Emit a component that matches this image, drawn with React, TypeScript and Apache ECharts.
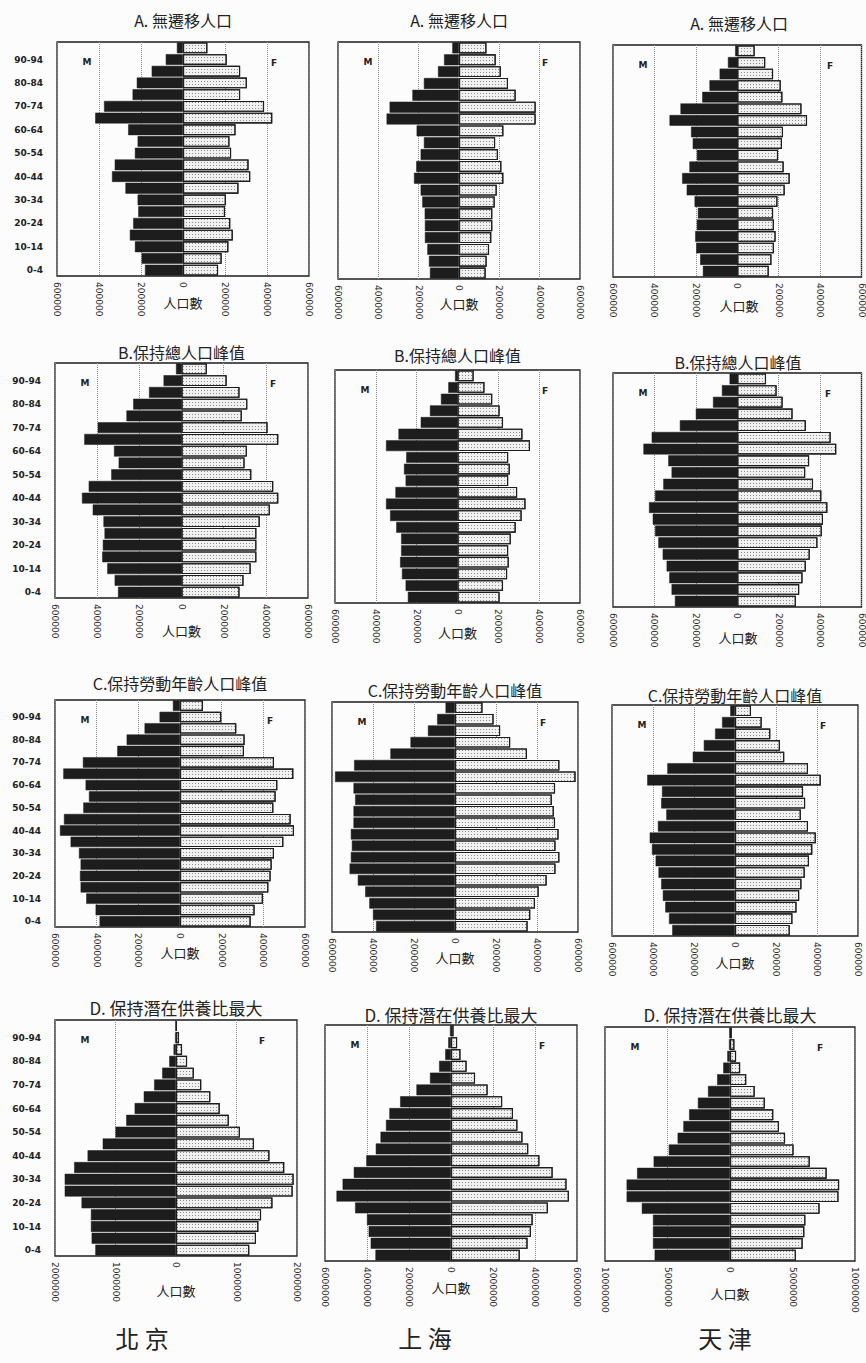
import React, { useEffect, useRef } from "react";
import * as echarts from "echarts";

// age groups, top of pyramid first
const AGES = ["95-99","90-94","85-89","80-84","75-79","70-74","65-69","60-64","55-59","50-54","45-49","40-44","35-39","30-34","25-29","20-24","15-19","10-14","5-9","0-4"];

const CITIES = ["北 京", "上 海", "天 津"];
const TITLES = ["A. 無遷移人口", "B.保持總人口峰值", "C.保持勞動年齡人口峰值", "D. 保持潛在供養比最大"];
const AXIS_NAME = "人口數";

// values listed top (95-99) to bottom (0-4)
const bjA_M = [29000, 82000, 149000, 220000, 240000, 376000, 418000, 261000, 216000, 229000, 325000, 338000, 274000, 216000, 213000, 237000, 253000, 229000, 197000, 181000];
const bjA_F = [116000, 208000, 272000, 304000, 272000, 386000, 425000, 250000, 221000, 229000, 312000, 320000, 264000, 204000, 200000, 225000, 237000, 216000, 184000, 167000];
const shA_M = [33000, 74000, 104000, 174000, 231000, 344000, 359000, 210000, 174000, 190000, 212000, 223000, 190000, 182000, 170000, 169000, 169000, 157000, 149000, 144000];
const shA_F = [136000, 182000, 207000, 243000, 281000, 380000, 380000, 220000, 179000, 193000, 210000, 220000, 187000, 177000, 165000, 165000, 160000, 149000, 137000, 132000];
const tjA_M = [10000, 45000, 85000, 134000, 169000, 274000, 327000, 223000, 215000, 195000, 231000, 266000, 244000, 206000, 190000, 195000, 203000, 198000, 179000, 166000];
const tjA_F = [84000, 135000, 173000, 210000, 218000, 310000, 337000, 221000, 216000, 197000, 224000, 253000, 229000, 194000, 173000, 177000, 185000, 177000, 165000, 152000];

const bjB_M = [26000, 85000, 154000, 229000, 261000, 397000, 461000, 320000, 298000, 333000, 440000, 472000, 421000, 370000, 365000, 373000, 376000, 352000, 317000, 301000];
const bjB_F = [120000, 214000, 275000, 312000, 286000, 408000, 459000, 310000, 299000, 331000, 435000, 459000, 419000, 371000, 355000, 355000, 355000, 328000, 294000, 275000];
const shB_M = [12000, 45000, 81000, 135000, 180000, 289000, 350000, 251000, 262000, 254000, 304000, 350000, 330000, 300000, 276000, 276000, 281000, 272000, 254000, 243000];
const shB_F = [79000, 132000, 170000, 206000, 223000, 318000, 355000, 248000, 256000, 248000, 292000, 333000, 314000, 285000, 261000, 248000, 251000, 243000, 223000, 206000];
const tjB_M = [37000, 74000, 117000, 200000, 277000, 413000, 453000, 333000, 317000, 357000, 397000, 426000, 408000, 397000, 381000, 360000, 341000, 328000, 317000, 301000];
const tjB_F = [139000, 190000, 219000, 267000, 331000, 451000, 478000, 347000, 328000, 366000, 406000, 435000, 414000, 408000, 387000, 350000, 331000, 315000, 299000, 283000];

const bjC_M = [34000, 98000, 170000, 256000, 301000, 466000, 560000, 453000, 437000, 464000, 557000, 576000, 525000, 485000, 477000, 480000, 477000, 450000, 405000, 386000];
const bjC_F = [110000, 198000, 270000, 310000, 307000, 451000, 544000, 467000, 459000, 448000, 531000, 547000, 496000, 451000, 440000, 435000, 424000, 398000, 358000, 339000];
const shC_M = [46000, 87000, 132000, 217000, 315000, 492000, 585000, 495000, 487000, 495000, 495000, 508000, 503000, 508000, 514000, 474000, 438000, 418000, 400000, 385000];
const shC_F = [134000, 188000, 220000, 269000, 351000, 509000, 588000, 488000, 472000, 482000, 488000, 505000, 490000, 509000, 490000, 447000, 408000, 390000, 367000, 354000];
const tjC_M = [23000, 63000, 97000, 152000, 206000, 330000, 428000, 356000, 360000, 335000, 376000, 416000, 405000, 387000, 373000, 360000, 352000, 340000, 322000, 306000];
const tjC_F = [78000, 130000, 172000, 219000, 240000, 356000, 418000, 332000, 342000, 321000, 356000, 394000, 377000, 361000, 340000, 324000, 313000, 300000, 280000, 267000];

const bjD_M = [5000, 15000, 40000, 111000, 228000, 361000, 533000, 683000, 822000, 1000000, 1211000, 1461000, 1683000, 1839000, 1839000, 1561000, 1406000, 1406000, 1394000, 1333000];
const bjD_F = [10000, 50000, 100000, 183000, 294000, 417000, 567000, 722000, 872000, 1056000, 1289000, 1544000, 1789000, 1944000, 1928000, 1594000, 1406000, 1361000, 1322000, 1211000];
const shD_M = [50000, 130000, 274000, 565000, 1000000, 1645000, 2420000, 2935000, 3097000, 3355000, 3581000, 4032000, 4629000, 5161000, 5452000, 4565000, 4000000, 3919000, 3823000, 3597000];
const shD_F = [120000, 290000, 450000, 742000, 1145000, 1742000, 2435000, 2952000, 3161000, 3403000, 3677000, 4210000, 4839000, 5500000, 5613000, 4613000, 3887000, 3806000, 3645000, 3274000];
const tjD_M = [60000, 80000, 216000, 540000, 1027000, 1757000, 2568000, 3270000, 3730000, 4189000, 4892000, 6108000, 7432000, 8270000, 8270000, 7054000, 6162000, 6162000, 6162000, 6027000];
const tjD_F = [135000, 351000, 486000, 811000, 1297000, 1973000, 2784000, 3459000, 3919000, 4405000, 5081000, 6378000, 7730000, 8730000, 8676000, 7162000, 6027000, 5946000, 5811000, 5270000];

// axis extents per panel
const AXIS_MAX = [600000, 600000, 600000, 600000, 600000, 600000, 600000, 600000, 600000, 2000000, 6000000, 10000000];
const AXIS_STEP = [200000, 200000, 200000, 200000, 200000, 200000, 200000, 200000, 200000, 1000000, 2000000, 5000000];

// layout: [left, top, right, bottom, titleY, unitY]
const LAYOUT = [
  [57, 42, 309, 276, 20, 302],
  [338, 42, 580, 279, 20, 303],
  [613, 45, 865, 277, 23, 305],
  [55, 363, 308, 598, 352, 630],
  [335, 370, 580, 603, 355, 632],
  [613, 373, 863, 607, 362, 637],
  [55, 700, 305, 927, 683, 952],
  [332, 702, 578, 932, 690, 957],
  [612, 705, 858, 936, 695, 962],
  [55, 1020, 297, 1256, 1007, 1290],
  [325, 1025, 577, 1261, 1014, 1287],
  [605, 1027, 855, 1261, 1014, 1293],
];

const DATA = [
  [bjA_M, bjA_F], [shA_M, shA_F], [tjA_M, tjA_F],
  [bjB_M, bjB_F], [shB_M, shB_F], [tjB_M, tjB_F],
  [bjC_M, bjC_F], [shC_M, shC_F], [tjC_M, tjC_F],
  [bjD_M, bjD_F], [shD_M, shD_F], [tjD_M, tjD_F],
];

const INK = "#1d1d1d";

export default function App() {
  const ref = useRef<HTMLDivElement>(null);

  useEffect(() => {
    if (!ref.current) return;
    const chart = echarts.init(ref.current, null, { renderer: "svg" });

    const grid: any[] = [];
    const xAxis: any[] = [];
    const yAxis: any[] = [];
    const series: any[] = [];
    const graphic: any[] = [];

    LAYOUT.forEach((L, i) => {
      const [l, t, r, b, titleY, unitY] = L;
      const col = i % 3;
      const row = Math.floor(i / 3);
      const cx = (l + r) / 2;
      grid.push({
        left: l, top: t, width: r - l, height: b - t,
        show: true, borderColor: INK, borderWidth: 1.3, backgroundColor: "transparent",
      });
      xAxis.push({
        type: "value", gridIndex: i,
        min: -AXIS_MAX[i], max: AXIS_MAX[i], interval: AXIS_STEP[i],
        axisLine: { show: false }, axisTick: { show: false },
        splitLine: { show: true, lineStyle: { type: "dotted", color: "#8a8a8a", width: 1 } },
        axisLabel: {
          rotate: -90, fontSize: 9, color: "#2a2a2a", fontFamily: "DejaVu Sans", margin: 6,
          formatter: (v: number) => String(Math.abs(v)),
        },
      });
      yAxis.push({
        type: "category", gridIndex: i, data: AGES, inverse: true,
        axisLine: { show: false }, axisTick: { show: false }, splitLine: { show: false },
        axisLabel: {
          show: col === 0,
          interval: (idx: number) => idx % 2 === 1,
          fontSize: 9, fontWeight: "bold", fontFamily: "DejaVu Sans", color: "#222", margin: 14,
        },
      });
      const [m, f] = DATA[i];
      series.push({
        type: "bar", xAxisIndex: i, yAxisIndex: i, name: "M",
        data: m.map((v) => -v), barCategoryGap: "8%", barGap: "-100%",
        itemStyle: { color: INK, borderColor: INK, borderWidth: 0.5 },
        silent: true,
      });
      series.push({
        type: "bar", xAxisIndex: i, yAxisIndex: i, name: "F",
        data: f, barCategoryGap: "8%", barGap: "-100%",
        itemStyle: {
          color: "#f1f1f1", borderColor: INK, borderWidth: 1.1,
          decal: { symbol: "rect", symbolSize: 1, color: "#8c8c8c", dashArrayX: [1, 2], dashArrayY: [1, 2] },
        },
        silent: true,
      });

      graphic.push({
        type: "text", left: "auto", x: cx, y: titleY,
        style: {
          text: TITLES[row], x: 0, y: 0, align: "center", verticalAlign: "middle",
          font: `${row === 3 ? 17 : 16}px "Noto Sans CJK TC"`, fill: "#222",
        },
      });
      graphic.push({
        type: "text", x: cx, y: unitY,
        style: { text: AXIS_NAME, align: "center", verticalAlign: "middle", font: '13px "Noto Sans CJK TC"', fill: "#222" },
      });
      graphic.push({
        type: "text", x: l + 30, y: t + 20,
        style: { text: "M", align: "center", verticalAlign: "middle", font: 'bold 9px "DejaVu Sans"', fill: "#222" },
      });
      graphic.push({
        type: "text", x: r - 35, y: t + 21,
        style: { text: "F", align: "center", verticalAlign: "middle", font: 'bold 9px "DejaVu Sans"', fill: "#222" },
      });
    });

    const cityX = [142, 425, 725];
    CITIES.forEach((c, k) => {
      graphic.push({
        type: "text", x: cityX[k], y: 1337,
        style: { text: c, align: "center", verticalAlign: "middle", font: '24px "Noto Sans CJK TC"', fill: "#222" },
      });
    });

    chart.setOption({
      animation: false,
      backgroundColor: "#fcfcfc",
      grid, xAxis, yAxis, series, graphic,
    });
    return () => chart.dispose();
  }, []);

  return (
    <div
      ref={ref}
      style={{ position: "absolute", left: 0, top: 0, width: 866, height: 1363 }}
    />
  );
}
